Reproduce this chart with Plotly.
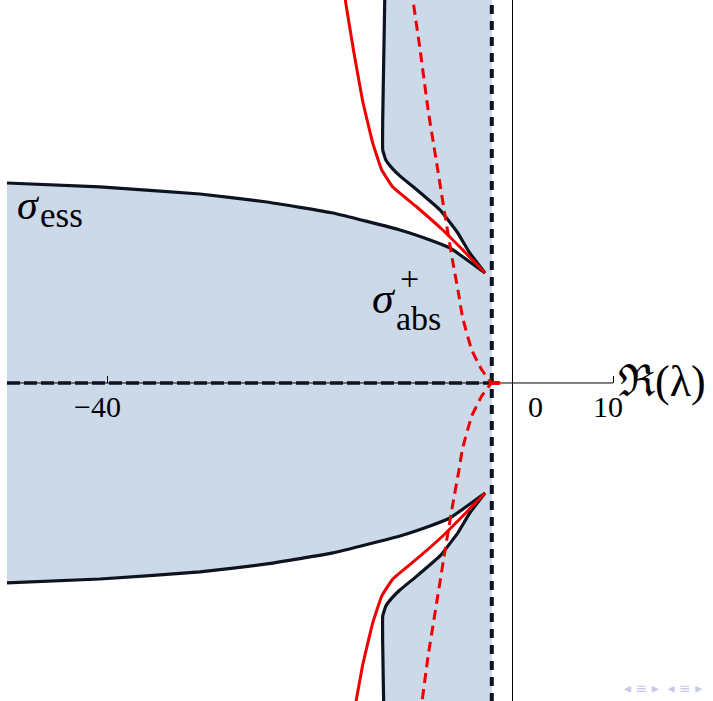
import plotly.graph_objects as go

# ---------------- data (upper half; lower half is the mirror image) ----------------
ess_x = [-50.0, -40.79, -30.89, -24.26, -17.72, -11.09, -8.12, -6.14, -4.16, -2.67]
ess_y = [19.80, 19.41, 18.71, 17.92, 16.83, 15.15, 14.16, 13.37, 11.98, 10.89]

abs_x = [-12.6, -12.6, -12.7, -12.8, -12.8, -12.5, -11.9, -11.1, -9.4, -7.1, -5.4, -4.2, -2.67]
abs_y = [39.0, 37.9, 32.0, 26.0, 23.1, 22.1, 21.3, 20.5, 19.1, 17.1, 14.9, 12.9, 10.89]

red_x = [-16.6, -16.5, -15.7, -14.8, -13.8, -12.9, -11.8, -9.4, -6.8, -4.9, -2.67]
red_y = [39.0, 37.9, 33.0, 28.0, 23.8, 21.1, 19.4, 17.4, 15.1, 13.2, 10.89]

rdash_x = [-9.9, -9.8, -9.1, -8.3, -7.4, -6.6, -5.9, -5.3, -4.9, -4.0, -3.0, -2.1]
rdash_y = [39.0, 37.9, 33.0, 27.0, 21.4, 16.4, 12.2, 8.9, 6.5, 3.3, 1.3, 0.0]

abs_edge = -2.0          # weighted-space boundary (vertical dashed line)
x_left, x_axis_end = -50.0, 10.0
y_top, y_bot = 39.0, -33.0
origin_mark_x = [-2.3, -1.2]
tick_vals = [-40, 10]
tick_labels = [("\u221240", -40.99), ("0", 2.28), ("10", 9.5)]

X_RANGE = [-50.69, 19.90]
Y_RANGE = [-31.49, 37.92]

def mirror(v):
    return [-a for a in v]

# ---------------- build ----------------
fig = go.Figure()

# blue region polygon
poly_x = (ess_x + abs_x[::-1] + [abs_edge, abs_edge] + abs_x + ess_x[::-1] + [ess_x[0]])
poly_y = (ess_y + abs_y[::-1] + [y_top, y_bot] + mirror(abs_y) + mirror(ess_y)[::-1] + [ess_y[0]])
fig.add_trace(go.Scatter(x=poly_x, y=poly_y, fill="toself", fillcolor="#CCD9E9",
                         line=dict(width=0), mode="lines", hoverinfo="skip"))

# horizontal thin axis
fig.add_trace(go.Scatter(x=[x_left, x_axis_end], y=[0, 0], mode="lines",
                         line=dict(color="black", width=1)))

BLACK = "#0d1420"
for xs, ys in [(ess_x, ess_y), (ess_x, mirror(ess_y)), (abs_x, abs_y), (abs_x, mirror(abs_y))]:
    fig.add_trace(go.Scatter(x=xs, y=ys, mode="lines", line=dict(color=BLACK, width=3.2, shape="spline", smoothing=0.3)))

for xs, ys in [(red_x, red_y), (red_x, mirror(red_y))]:
    fig.add_trace(go.Scatter(x=xs, y=ys, mode="lines", line=dict(color="#EE0000", width=3, shape="spline", smoothing=0.3)))

# black dashed lines
fig.add_trace(go.Scatter(x=[x_left, abs_edge], y=[0, 0], mode="lines",
                         line=dict(color=BLACK, width=3.5, dash="13px,4px")))
fig.add_trace(go.Scatter(x=[abs_edge, abs_edge], y=[y_top, y_bot], mode="lines",
                         line=dict(color=BLACK, width=4, dash="9px,7px")))

# red dashed curve (through the origin region)
rdx = rdash_x + rdash_x[::-1][1:]
rdy = rdash_y + mirror(rdash_y[::-1][1:])
fig.add_trace(go.Scatter(x=rdx, y=rdy, mode="lines",
                         line=dict(color="#EE0000", width=3, dash="10px,6px", shape="spline", smoothing=0.3)))

fig.add_trace(go.Scatter(x=origin_mark_x, y=[0, 0], mode="lines", line=dict(color="#EE0000", width=4)))

SERIF = "Liberation Serif"
ann = []
for txt, xv in tick_labels:
    ann.append(dict(x=xv, y=-2.3, text=txt, showarrow=False, xref="x", yref="y",
                    font=dict(family=SERIF, size=30, color="black")))
ann.append(dict(x=14.85, y=0.1, text="\u211C(\u03bb)", showarrow=False, xref="x", yref="y",
                font=dict(family=SERIF, size=44, color="black")))
# sigma_ess
ann.append(dict(x=-47.9, y=17.6, text="<i>\u03c3</i>", showarrow=False, xref="x", yref="y",
                font=dict(family=SERIF, size=42, color="black")))
ann.append(dict(x=-44.6, y=16.6, text="ess", showarrow=False, xref="x", yref="y",
                font=dict(family=SERIF, size=35, color="black")))
# sigma_abs^+
ann.append(dict(x=-12.67, y=8.4, text="<i>\u03c3</i>", showarrow=False, xref="x", yref="y",
                font=dict(family=SERIF, size=44, color="black")))
ann.append(dict(x=-10.1, y=10.3, text="+", showarrow=False, xref="x", yref="y",
                font=dict(family=SERIF, size=34, color="black")))
ann.append(dict(x=-9.3, y=6.4, text="abs", showarrow=False, xref="x", yref="y",
                font=dict(family=SERIF, size=34, color="black")))
# beamer navigation symbols
ann.append(dict(x=663/713, y=13/701, xanchor="center", yanchor="middle",
                text="\u25c2 \u2261 \u25b8  \u25c2 \u2261 \u25b8", showarrow=False,
                xref="paper", yref="paper", font=dict(family="DejaVu Sans", size=14, color="#c8c8e8")))

fig.update_layout(
    width=713, height=701, margin=dict(l=0, r=0, t=0, b=0),
    paper_bgcolor="white", plot_bgcolor="white", showlegend=False,
    annotations=ann,
    xaxis=dict(range=X_RANGE, showgrid=False, showline=False, zeroline=True,
               zerolinecolor="black", zerolinewidth=1, anchor="free", position=318/701,
               ticks="inside", ticklen=7, tickwidth=1, tickcolor="black",
               tickmode="array", tickvals=tick_vals, showticklabels=False),
    yaxis=dict(range=Y_RANGE, showgrid=False, showline=False, zeroline=False,
               showticklabels=False, ticks=""),
)

fig.write_html("out.html")
